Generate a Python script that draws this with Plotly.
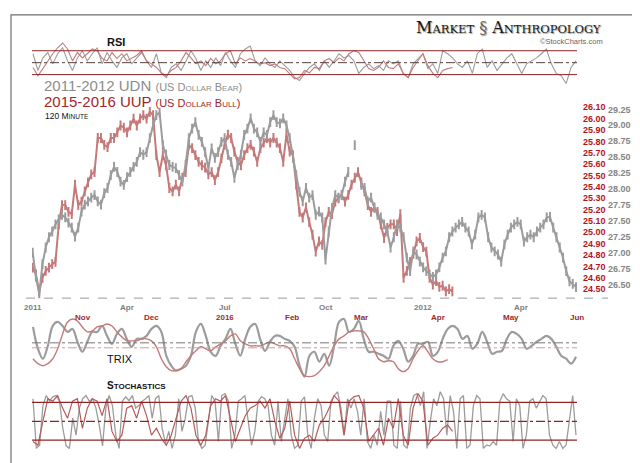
import plotly.graph_objects as go

# ---------------- data ----------------
# 120-minute closes, 2011-2012 UDN (gray, right outer axis)
udn_price = [
    27.01, 26.63, 26.36, 26.83, 27.09, 27.25, 27.34, 27.45, 27.53, 27.60,
    27.56, 27.48, 27.40, 27.26, 27.40, 27.65, 27.76, 27.81, 27.87, 27.91,
    27.81, 27.76, 27.94, 28.02, 28.22, 28.35, 28.27, 28.12, 28.07, 28.19,
    28.27, 28.35, 28.43, 28.58, 28.54, 28.58, 28.80, 29.00, 29.16, 29.20,
    28.69, 28.54, 28.38, 28.35, 28.33, 28.22, 28.12, 28.38, 28.80, 28.95,
    29.05, 28.85, 28.74, 28.58, 28.33,
    28.64, 28.49, 28.58, 28.74, 28.80, 28.54, 28.43, 28.18, 28.38, 28.54,
    28.85, 28.95, 29.11, 28.95, 28.89, 28.74, 28.89, 28.85, 29.05, 29.16,
    29.05, 29.03, 29.11, 29.00, 28.80, 28.49, 28.22, 27.96, 27.81, 28.02,
    27.87, 27.91, 27.60, 27.65, 27.56, 26.90, 27.34, 27.71, 27.91, 27.87,
    27.91, 28.12, 28.27, None, 28.69, None, 28.07, 28.02, 27.81, 27.87,
    27.71, 27.60, 27.56, 27.45, 27.34, 27.09, 27.25, 27.45,
    27.40, 27.25, 26.93, 26.72, 27.03, 26.98, 26.87, 26.78, 26.72, 26.67,
    26.63, 26.67, 26.78, 26.93, 27.03, 27.25, 27.34, 27.40, 27.45, 27.49,
    27.40, 27.34, 27.14, 27.29, 27.56, 27.60, 27.56, 27.25, 27.09, 27.03,
    26.98, 26.87, 27.14, 27.29, 27.40, 27.45, 27.49, 27.45, 27.18, 27.25,
    27.29, 27.25, 27.34, 27.40, 27.45, 27.56, 27.57, 27.40, 27.25, 27.09,
    26.93, 26.72, 26.56, 26.52, 26.47,
]
# 120-minute closes, 2015-2016 UUP (red, right inner axis)
uup_price = [
    24.69, 24.63, 24.48, 24.60, 24.66, 24.69, 24.72, 24.74, 25.07, 25.24,
    25.24, 25.18, 25.16, 25.42, 25.24, 25.27, 25.36, 25.44, 25.51, 25.53,
    25.83, 25.83, 25.77, 25.75, 25.83, 25.83, 25.88, 25.94, 25.92, 25.88,
    25.94, 26.00, 25.94, 26.00, 26.03, 26.00, 26.06, 26.03, 25.68, 25.53,
    25.68, 25.59, 25.39, 25.36, 25.42, 25.36, 25.48, 25.53, 25.77, 25.74,
    25.68, 25.62, 25.59, 25.57, 25.51,
    25.53, 25.46, 25.53, 25.65, 25.77, 25.86, 25.83, 25.71, 25.62, 25.59,
    25.68, 25.74, 25.77, 25.71, 25.62, 25.74, 25.79, 25.83, 25.79, 25.83,
    25.79, 25.74, 25.62, 25.86, 25.71, 25.68, 25.42, 25.18, 25.13, 25.22,
    25.09, 24.98, 24.83, 24.92, 24.89, 25.09, 25.18, 25.16, 25.27, 25.30,
    25.33, 25.27, 25.33, 25.42, 25.48, 25.53, 25.44, 25.36, 25.24, 25.18,
    25.22, 25.18, 25.07, 24.95, 25.04, 25.07,
    25.07, 25.01, 25.16, 24.60, 24.66, 24.74, 24.81, 24.92, 24.95, 24.87,
    24.83, 24.60, 24.54, 24.57, 24.52, 24.53, 24.48, 24.50, 24.48,
]

udn_rsi = [
    65, 37, 58, 67, 48, 65, 75, 53, 37, 58, 70, 53, 65, 75, 48, 67, 53, 42, 58, 65,
    48, 58, 67, 53, 42, 65, 32, 25, 42, 48, 37, 53, 70, 57, 37, 53, 42, 58, 45, 67,
    53, 42, 65, 73, 78, 53, 45, 58, 48, 42, 53, 45, 37, 25, 20, 32, 42, 48, 37, 53,
    42, 53, 65, 58, 62, 53, 32, 42, 48, 40, 45, 37, 53, 48, 53, 32, 25, 48, 57, 65,
    40, 48, 32, 70, 65, 58, 48, 42, 53, 32, 65, 73, 42, 53, 37, 48, 58, 65, 48, 32,
    48, 53, 58, 65, 73, 48, 32, 28, 15, 42, 53,
]
uup_rsi = [
    42, 28, 40, 53, 65, 75, 83, 73, 53, 67, 58, 65, 73, 70, 57, 53, 67, 57, 65, 53,
    58, 62, 70, 53, 48, 42, 33, 28, 37, 42, 53, 67, 58, 48, 53, 45, 57, 48, 53, 65,
    70, 48, 58, 53, 57, 53, 48, 50, 45, 48, 42, 40, 32, 23, 25, 37, 33, 42, 40, 53,
    57, 50, 58, 53, 65, 70, 67, 53, 40, 37, 42, 53, 42, 40, 48, 32, 25, 42, 53, 65,
    45, 32, 25, 37, 40, 42,
]

udn_trix = [
    0.080, -0.030, -0.080, -0.015, 0.085, 0.105, 0.085, 0.055, 0.070, 0.005,
    -0.045, 0.005, 0.055, 0.055, 0.085, 0.035, -0.005, 0.045, 0.070, 0.020,
    -0.020, 0.020, 0.020, 0.035, 0.070, 0.085, 0.055, -0.065, -0.115, -0.140,
    -0.130, -0.115, -0.065, 0.055, 0.095, 0.035, -0.045, -0.065, -0.015, 0.020,
    0.070, -0.005, -0.065, 0.020, 0.080, 0.095, 0.020, -0.040, 0.005, 0.035,
    0.035, 0.020, 0.010, -0.020, -0.115, -0.170, -0.065, -0.045, -0.095, -0.055,
    -0.115, -0.015, 0.105, 0.120, 0.055, 0.070, 0.110, 0.020, -0.045, -0.045,
    -0.055, -0.065, -0.080, -0.015, 0.010, -0.030, -0.095, -0.065, -0.005, -0.005,
    0.005, -0.065, -0.045, 0.020, 0.070, 0.085, 0.070, 0.020, 0.035, -0.030,
    -0.005, 0.055, 0.005, -0.055, -0.045, -0.040, 0.020, 0.055, 0.045, 0.020,
    -0.030, -0.015, 0.005, 0.020, 0.035, 0.020, -0.020, -0.065, -0.080, -0.105,
    -0.070,
]
uup_trix = [
    -0.055, -0.080, -0.090, -0.080, -0.055, -0.005, 0.070, 0.130, 0.145, 0.135,
    0.105, 0.080, 0.085, 0.105, 0.110, 0.120, 0.110, 0.080, 0.055, 0.035,
    0.035, 0.035, 0.045, 0.045, 0.035, 0.005, -0.055, -0.095, -0.115, -0.115,
    -0.105, -0.070, -0.040, -0.015, 0.005, -0.005, -0.015, 0.005, 0.020, 0.035,
    0.060, 0.070, 0.035, 0.020, 0.010, 0.010, 0.010, 0.020, 0.030, 0.020,
    0.010, 0.010, -0.005, -0.055, -0.105, -0.140, -0.145, -0.140, -0.120,
    -0.090, -0.040, 0.010, 0.045, 0.060, 0.080, 0.085, 0.085, 0.080, 0.045,
    -0.005, -0.055, -0.070, -0.065, -0.070, -0.105, -0.120, -0.105, -0.055, -0.015,
    0.010, -0.020, -0.055, -0.070, -0.070, -0.060,
]

udn_stoch = [
    86, 7, 12, 75, 91, 82, 89, 91, 82, 39, 11, 7, 55, 28, 71, 86, 91, 82, 86, 71,
    44, 11, 71, 91, 75, 28, 7, 82, 89, 83, 91, 71, 75, 82, 86, 91, 55, 86, 91, 39,
    15, 34, 7, 28, 86, 34, 55, 89, 91, 71, 18, 7, 12, 55, 91, 82, 18, 91, 94, 82,
    7, 28, 82, 86, 91, 50, 12, 34, 82, 89, 86, 75, 28, 12, 82, 18, 55, 86, 28, 7,
    12, 82, 89, 28, 7, 55, 86, 75, 28,
    18, 82, 91, 97, 71, 28, 86, 71, 86, 66, 28, 86, 18, 7, 28, 12, 66, 28, 82, 82,
    12, 7, 82, 12, 7, 71, 91, 94, 75, 97, 7, 50, 86, 75, 97, 86, 28, 91, 66, 7,
    86, 91, 7, 12, 75, 91, 86, 7, 12, 11, 18, 12, 82, 94, 86, 82, 18, 86, 75, 7,
    28, 82, 86, 71, 82, 91, 86, 28, 12, 7, 18, 7, 12, 55, 91, 28,
]
uup_stoch = [
    18, 12, 50, 86, 82, 91, 71, 55, 82, 86, 39, 71, 86, 82, 59, 86, 34, 18, 28, 71,
    75, 55, 82, 59, 28, 39, 23, 12, 28, 55, 82, 91, 71, 28, 12, 28, 75, 86, 82, 91,
    55, 18, 39, 59, 71, 75, 82, 71, 86, 50, 23, 39, 82, 28, 7, 23, 28, 18, 44, 55,
    71, 91, 82, 28, 82, 89, 91, 71, 18, 28, 39, 12, 55, 39, 86, 28, 12, 71, 94, 82,
    12, 23, 28, 39, 44, 34,
]

red_ticks = [24.50, 24.60, 24.70, 24.80, 24.90, 25.00, 25.10, 25.20, 25.30,
             25.40, 25.50, 25.60, 25.70, 25.80, 25.90, 26.00, 26.10]
gray_ticks = [26.50, 26.75, 27.00, 27.25, 27.50, 27.75, 28.00, 28.25, 28.50,
              28.75, 29.00, 29.25]

# month labels: position = bar index on the price time scale
udn_months = ["2011", "Apr", "Jul", "Oct", "2012", "Apr"]
udn_month_bar = [0, 29, 59, 90, 120, 150]
uup_months = ["Nov", "Dec", "2016", "Feb", "Mar", "Apr", "May", "Jun"]
uup_month_bar = [15.5, 36.4, 59.2, 79.8, 101, 124.7, 146.9, 167.2]

rsi_levels = [30, 70]
rsi_mid = 50
stoch_levels = [20, 80]
stoch_mid = 50

# ---------------- layout constants ----------------
W, H = 640, 463
PL, PR = 24, 569          # plot area left/right (px)


def px_x(p):
    return p / W


def px_y(p):
    return 1 - p / H


def span(n, first_px, last_px):
    slope = (last_px - first_px) / (n - 1)
    return [(PL - first_px) / slope, (PR - first_px) / slope]


GRAY = "#9c9c9c"
RED = "#c47a7a"
DARKRED = "#8e2424"
XDOM = [px_x(PL), px_x(PR)]

fig = go.Figure()

# RSI
fig.add_trace(go.Scatter(x=list(range(len(udn_rsi))), y=udn_rsi, xaxis="x2", yaxis="y3",
                         mode="lines", line=dict(color=GRAY, width=1.1)))
fig.add_trace(go.Scatter(x=list(range(len(uup_rsi))), y=uup_rsi, xaxis="x2", yaxis="y3",
                         mode="lines", line=dict(color=RED, width=1.1)))

# Price
fig.add_trace(go.Scatter(x=list(range(len(udn_price))), y=udn_price, xaxis="x", yaxis="y2",
                         mode="lines+markers", connectgaps=False,
                         line=dict(color=GRAY, width=2),
                         marker=dict(symbol="line-ns", size=7, color=GRAY,
                                     line=dict(width=2, color=GRAY))))
fig.add_trace(go.Scatter(x=list(range(len(uup_price))), y=uup_price, xaxis="x", yaxis="y",
                         mode="lines+markers",
                         line=dict(color=RED, width=2),
                         marker=dict(symbol="line-ns", size=7, color=RED,
                                     line=dict(width=2, color=RED))))

# TRIX
fig.add_trace(go.Scatter(x=list(range(len(udn_trix))), y=udn_trix, xaxis="x3", yaxis="y4",
                         mode="lines", line=dict(color=GRAY, width=2.2, shape="spline")))
fig.add_trace(go.Scatter(x=list(range(len(uup_trix))), y=uup_trix, xaxis="x3", yaxis="y5",
                         mode="lines", line=dict(color=RED, width=1.4, shape="spline")))

# Stochastics
fig.add_trace(go.Scatter(x=list(range(len(udn_stoch))), y=udn_stoch, xaxis="x4", yaxis="y6",
                         mode="lines", line=dict(color=GRAY, width=1.3)))
fig.add_trace(go.Scatter(x=list(range(len(uup_stoch))), y=uup_stoch, xaxis="x5", yaxis="y6",
                         mode="lines", line=dict(color="#b85a5a", width=1.2)))

hidden = dict(visible=False, showgrid=False, zeroline=False)

fig.update_layout(
    width=W, height=H, margin=dict(l=0, r=0, t=0, b=0),
    paper_bgcolor="white", plot_bgcolor="rgba(0,0,0,0)", showlegend=False,
    xaxis=dict(domain=XDOM, range=span(len(udn_price), 24.7, 568), anchor="y", **hidden),
    xaxis2=dict(domain=XDOM, range=span(len(udn_rsi), 25, 568), anchor="y3", **hidden),
    xaxis3=dict(domain=XDOM, range=span(len(udn_trix), 25, 568), anchor="y4", **hidden),
    xaxis4=dict(domain=XDOM, range=span(len(udn_stoch), 25, 568), anchor="y6", **hidden),
    xaxis5=dict(domain=XDOM, range=span(len(udn_rsi), 25, 568), anchor="y6",
                overlaying="x4", **hidden),
    yaxis=dict(domain=[px_y(289), px_y(95)], range=[24.421, 26.117], side="right",
               anchor="x", showgrid=False, zeroline=False, showline=False, ticks="",
               tickvals=red_ticks, ticktext=[f"{v:.2f}" for v in red_ticks],
               ticklabelstandoff=5,
               tickfont=dict(family="Liberation Sans", size=9, color="#b3141c", weight="bold")),
    yaxis2=dict(range=[26.298, 29.312], overlaying="y", side="right", anchor="free",
                position=px_x(597), showgrid=False, zeroline=False, showline=False, ticks="",
                tickvals=gray_ticks, ticktext=[f"{v:.2f}" for v in gray_ticks],
                ticklabelstandoff=2,
                tickfont=dict(family="Liberation Sans", size=9, color="#858585", weight="bold")),
    yaxis3=dict(domain=[px_y(78), px_y(28)], range=[6.7, 90], anchor="x2", **hidden),
    yaxis4=dict(domain=[px_y(372), px_y(308)], range=[-0.19, 0.13], anchor="x3", **hidden),
    yaxis5=dict(range=[-0.165, 0.155], overlaying="y4", anchor="x3", **hidden),
    yaxis6=dict(domain=[px_y(446), px_y(379)], range=[-2.1, 103.7], anchor="x4", **hidden),
)

shapes = []
# frame with shadow
shapes.append(dict(type="rect", xref="paper", yref="paper", layer="below",
                   x0=px_x(6), x1=px_x(638), y0=px_y(460), y1=px_y(7),
                   fillcolor="#bdbdbd", line=dict(width=0)))
shapes.append(dict(type="rect", xref="paper", yref="paper", layer="below",
                   x0=px_x(3), x1=px_x(635), y0=px_y(456), y1=px_y(4),
                   fillcolor="white", line=dict(color="#6e6e6e", width=1.2)))
# RSI levels
for lv in rsi_levels:
    shapes.append(dict(type="line", xref="x2 domain", yref="y3", x0=0, x1=1, y0=lv, y1=lv,
                       line=dict(color=DARKRED, width=1)))
shapes.append(dict(type="line", xref="x2 domain", yref="y3", x0=0, x1=1, y0=rsi_mid, y1=rsi_mid,
                   line=dict(color="#5a4040", width=1, dash="dashdot")))
# price bottom dashed line
shapes.append(dict(type="line", xref="paper", yref="y domain", x0=px_x(18), x1=px_x(600),
                   y0=0, y1=0, line=dict(color="#9a9a9a", width=1, dash="dash")))
# TRIX zero lines
shapes.append(dict(type="line", xref="x3 domain", yref="y4", x0=0, x1=1, y0=0, y1=0,
                   line=dict(color="#777777", width=1, dash="dashdot")))
shapes.append(dict(type="line", xref="x3 domain", yref="y5", x0=0, x1=1, y0=0, y1=0,
                   line=dict(color="#d49a9a", width=1, dash="dashdot")))
# Stochastic levels
for lv in stoch_levels:
    shapes.append(dict(type="line", xref="x4 domain", yref="y6", x0=0, x1=1, y0=lv, y1=lv,
                       line=dict(color=DARKRED, width=1.2)))
shapes.append(dict(type="line", xref="x4 domain", yref="y6", x0=0, x1=1, y0=stoch_mid,
                   y1=stoch_mid, line=dict(color=DARKRED, width=1.2, dash="dashdot")))
fig.update_layout(shapes=shapes)


def smallcaps(text, big, small):
    out = ""
    for ch in text:
        if ch.islower():
            out += f"<span style='font-size:{small}px'>{ch.upper()}</span>"
        else:
            out += f"<span style='font-size:{big}px'>{ch}</span>"
    return out


ann = []
ann.append(dict(xref="paper", yref="paper", x=px_x(97), y=px_y(31), xanchor="left",
                yanchor="middle", showarrow=False, text="<b>RSI</b>",
                font=dict(family="Liberation Sans", size=11, color="#111")))
ann.append(dict(xref="paper", yref="paper", x=px_x(34), y=px_y(75), xanchor="left",
                yanchor="middle", showarrow=False,
                text="2011-2012 UDN " + smallcaps("(US Dollar Bear)", 11, 8),
                font=dict(family="Liberation Sans", size=15, color="#8c8c8c")))
ann.append(dict(xref="paper", yref="paper", x=px_x(34), y=px_y(91), xanchor="left",
                yanchor="middle", showarrow=False,
                text="2015-2016 UUP " + smallcaps("(US Dollar Bull)", 11, 8),
                font=dict(family="Liberation Sans", size=15, color="#a3262b")))
ann.append(dict(xref="paper", yref="paper", x=px_x(35), y=px_y(106), xanchor="left",
                yanchor="middle", showarrow=False,
                text=smallcaps("120 Minute", 8.5, 6.5),
                font=dict(family="Liberation Sans", size=8.5, color="#111")))
ann.append(dict(xref="paper", yref="paper", x=px_x(595), y=px_y(17), xanchor="right",
                yanchor="middle", showarrow=False,
                text=smallcaps("Market", 16, 11.5) + " <span style='color:#666'>§</span> "
                + smallcaps("Anthropology", 16, 11.5),
                font=dict(family="DejaVu Serif", size=16, color="#1a1a1a",
                          shadow="1px 1px 1px #999")))
ann.append(dict(xref="paper", yref="paper", x=px_x(597), y=px_y(31), xanchor="right",
                yanchor="middle", showarrow=False, text="©StockCharts.com",
                font=dict(family="Liberation Sans", size=7.5, color="#666")))
ann.append(dict(xref="paper", yref="paper", x=px_x(97), y=px_y(350), xanchor="left",
                yanchor="middle", showarrow=False, text="TRIX",
                font=dict(family="Liberation Sans", size=11, color="#111")))
ann.append(dict(xref="paper", yref="paper", x=px_x(97), y=px_y(377), xanchor="left",
                yanchor="middle", showarrow=False,
                text="<b>" + smallcaps("Stochastics", 10, 8) + "</b>",
                font=dict(family="Liberation Sans", size=10, color="#111")))
for lab, pos in zip(udn_months, udn_month_bar):
    ann.append(dict(xref="x", yref="paper", x=pos, y=px_y(298.5), xanchor="center",
                    yanchor="middle", showarrow=False, text=f"<b>{lab}</b>",
                    font=dict(family="Liberation Sans", size=8, color="#7d7d7d")))
for lab, pos in zip(uup_months, uup_month_bar):
    ann.append(dict(xref="x", yref="paper", x=pos, y=px_y(308.5), xanchor="center",
                    yanchor="middle", showarrow=False, text=f"<b>{lab}</b>",
                    font=dict(family="Liberation Sans", size=8, color="#9c2a2a")))
fig.update_layout(annotations=ann)

fig.write_html("out.html")
